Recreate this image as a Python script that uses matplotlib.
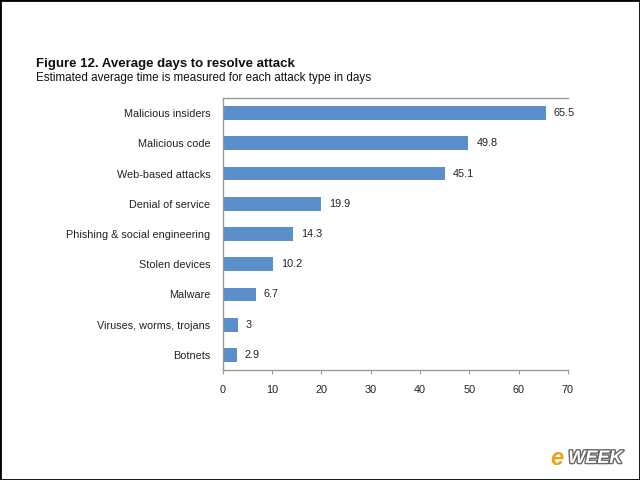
import matplotlib
matplotlib.use("Agg")
import matplotlib.pyplot as plt
import matplotlib.patheffects as pe
from matplotlib.patches import Rectangle

plt.rcParams['font.family'] = ['Liberation Sans', 'DejaVu Sans']

# data
categories = ["Malicious insiders", "Malicious code", "Web-based attacks",
              "Denial of service", "Phishing & social engineering",
              "Stolen devices", "Malware", "Viruses, worms, trojans", "Botnets"]
days = [65.5, 49.8, 45.1, 19.9, 14.3, 10.2, 6.7, 3, 2.9]
xticks = [0, 10, 20, 30, 40, 50, 60, 70]

fig = plt.figure(figsize=(6.4, 4.8), dpi=100)
ax = fig.add_axes([0.348, 0.229, 0.5395, 0.567])

ypos = list(range(len(categories)))
ax.barh(ypos, days, height=0.45, color='#5b8fcb')
for y, v in zip(ypos, days):
    ax.text(v + 1.6, y, f"{v:g}", va='center', ha='left', fontsize=7.8, color='#222222')

ax.set_yticks(ypos)
ax.set_yticklabels(categories, fontsize=7.8, color='#222222')
ax.set_ylim(len(categories) - 0.5, -0.5)
ax.set_xlim(0, 70)
ax.set_xticks(xticks)
ax.set_xticklabels([str(t) for t in xticks], fontsize=7.8, color='#222222')

for s in ['left', 'bottom', 'top']:
    ax.spines[s].set_color('#9a9a9a')
    ax.spines[s].set_linewidth(1.0)
ax.spines['right'].set_visible(False)
ax.tick_params(axis='y', length=0, pad=9)
ax.tick_params(axis='x', length=3, color='#9a9a9a', pad=8)

fig.text(0.056, 0.866, "Figure 12. Average days to resolve attack",
         fontsize=9.5, fontweight='bold', color='#111111', va='center')
fig.text(0.056, 0.837, "Estimated average time is measured for each attack type in days",
         fontsize=8.4, color='#111111', va='center')

# frame around picture
fig.patches.append(Rectangle((0, 0), 1, 1, transform=fig.transFigure,
                             fill=False, edgecolor='black', linewidth=2))

# watermark
fig.text(0.86, 0.045, "e", fontsize=17, fontweight='bold', style='italic',
         color='#e8a317', ha='left', va='center')
fig.text(0.888, 0.045, "WEEK", fontsize=13, fontweight='bold', style='italic',
         color='#ffffff', ha='left', va='center',
         path_effects=[pe.withStroke(linewidth=2, foreground='#666666')])

fig.savefig("out.png", dpi=100)
